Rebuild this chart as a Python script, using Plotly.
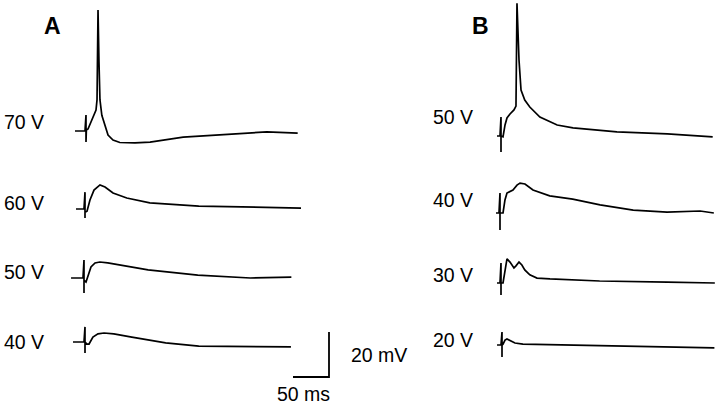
import plotly.graph_objects as go

# Sweep data: time relative to stimulus (ms) and voltage relative to baseline (mV).
# Stimulus artifact shows as the up/down blip at t = 0.
a70_t = [-15.3, -1.4, 0, 0, 0, 0.5, 2.8, 8.3, 13.9, 15.3, 16.7, 18.0, 19.4, 22.0, 26.4, 30.6, 37.5, 47, 68, 89, 135, 204, 251, 294]
a70_v = [0, 0, 7.1, -4.9, 0, 0.4, 0.9, 4.9, 9.3, 13.8, 53.8, 31.0, 13.8, 7.0, 2.2, -1.8, -4.0, -5.1, -5.3, -4.9, -2.7, -1.3, -0.4, -0.9]

a60_t = [-12.5, -1.4, 0, 0, 0, 2.8, 6.9, 12.5, 18.0, 20.8, 27.8, 38.9, 58, 90, 158, 228, 300]
a60_v = [0, 0, 7.5, -4.0, -1.5, -1.0, 4.0, 8.4, 10.2, 10.7, 9.8, 7.1, 4.9, 2.7, 1.3, 0.9, 0.4]

a50_t = [-18, -1.4, 0, 0, 0, 2.8, 5.6, 9.7, 15.3, 22.0, 33, 43, 89, 158, 231, 288]
a50_v = [0, 0, 8.0, -6.7, -1.0, -1.8, 0.9, 4.9, 6.7, 7.1, 6.7, 6.2, 3.6, 1.3, 0, 0.4]

a40_t = [-16.7, -1.4, 0, 0, 0, 2.8, 5.6, 11.0, 18.0, 26.4, 40, 65, 112, 158, 229, 286]
a40_v = [0, 0, 6.7, -4.9, 0, -0.9, -0.9, 2.2, 3.6, 4.0, 3.6, 2.2, -0.4, -1.8, -2.2, -2.2]

b50_t = [-5.6, -1.4, 0, 0, 0, 2.8, 5.6, 8.3, 12.5, 18.0, 20.8, 22.2, 25.0, 27.8, 33, 40, 54, 78, 100, 161, 231, 294]
b50_v = [0, 0, 8.4, -7.1, 0, -0.4, 4.9, 8.0, 9.8, 11.6, 13.3, 59.0, 33.8, 20.4, 16.0, 12.9, 8.4, 4.9, 3.6, 1.8, 0.9, -0.4]

b40_t = [-5.6, -1.4, 0, 0, 0, 4.2, 6.9, 9.7, 18.0, 23.6, 27.8, 34.7, 45.8, 69, 101, 139, 185, 232, 278, 297]
b40_v = [0, 0, 8.9, -7.6, 0, 0, 5.8, 8.9, 10.2, 12.4, 13.3, 12.9, 10.2, 7.6, 6.2, 3.6, 1.3, 0.4, 0.9, 0]

b30_t = [-5.6, -1.4, 0, 0, 0, 2.8, 5.6, 8.3, 12.5, 18.0, 20.8, 25.0, 29, 33, 40, 50, 68, 137, 231, 297]
b30_v = [0, 0, 8.9, -5.3, 0, 0, 5.8, 10.7, 9.3, 6.7, 7.6, 9.3, 8.0, 5.8, 3.6, 2.2, 1.8, 0.9, 0.4, 0]

b20_t = [-6.9, -1.4, 0, 0, 0, 1.4, 4.2, 6.9, 12.5, 18.0, 29, 136, 295]
b20_v = [0, 0, 5.8, -5.3, 0, 0.4, 2.2, 2.7, 1.8, 0.9, 0.4, -0.4, -1.3]

panel_labels = ["A", "B"]
stim_labels_a = ["70 V", "60 V", "50 V", "40 V"]
stim_labels_b = ["50 V", "40 V", "30 V", "20 V"]

scale_ms = 50
scale_mv = 20

# page geometry: 0.72 px per ms, 2.25 px per mV
PX_PER_MS = 0.72
PX_PER_MV = 2.25
W, H = 720, 405


def px_x(px):
    return px / PX_PER_MS


def px_y(py):
    return (H - py) / PX_PER_MV


def add_sweep(fig, t, v, stim_px, base_px):
    x0, y0 = px_x(stim_px), px_y(base_px)
    fig.add_trace(
        go.Scatter(
            x=[x0 + ti for ti in t],
            y=[y0 + vi for vi in v],
            mode="lines",
            line=dict(color="black", width=1.7),
            hoverinfo="skip",
        )
    )


fig = go.Figure()

sweeps = [
    (a70_t, a70_v, 86, 131),
    (a60_t, a60_v, 85, 209),
    (a50_t, a50_v, 84, 278),
    (a40_t, a40_v, 85, 342),
    (b50_t, b50_v, 501, 136),
    (b40_t, b40_v, 500, 213),
    (b30_t, b30_v, 501, 283),
    (b20_t, b20_v, 502, 345),
]
for t, v, sx, sy in sweeps:
    add_sweep(fig, t, v, sx, sy)

# scale bar
sb_x, sb_y = px_x(293), px_y(377)
fig.add_trace(
    go.Scatter(
        x=[sb_x, sb_x + scale_ms, sb_x + scale_ms],
        y=[sb_y, sb_y, sb_y + scale_mv],
        mode="lines",
        line=dict(color="black", width=1.8),
        hoverinfo="skip",
    )
)

font = dict(family="Liberation Sans, Arial, sans-serif", size=19.5, color="black")
annotations = []
for label, px, py in zip(panel_labels, [52, 480], [26, 26]):
    annotations.append(
        dict(x=px_x(px), y=px_y(py), text="<b>%s</b>" % label,
             font=dict(family="Liberation Sans, Arial, sans-serif", size=23, color="black"))
    )
for label, py in zip(stim_labels_a, [122, 203, 272, 342]):
    annotations.append(dict(x=px_x(2), y=px_y(py), text=label, xanchor="left", font=font))
for label, py in zip(stim_labels_b, [117, 200, 275, 340]):
    annotations.append(dict(x=px_x(431), y=px_y(py), text=label, xanchor="left", font=font))
annotations.append(dict(x=px_x(349), y=px_y(355), text="%d mV" % scale_mv, xanchor="left", font=font))
annotations.append(dict(x=px_x(303), y=px_y(394), text="%d ms" % scale_ms, font=font))
for a in annotations:
    a.update(showarrow=False, xref="x", yref="y")

fig.update_layout(
    width=W,
    height=H,
    margin=dict(l=0, r=0, t=0, b=0),
    paper_bgcolor="white",
    plot_bgcolor="white",
    showlegend=False,
    annotations=annotations,
    xaxis=dict(range=[0, W / PX_PER_MS], visible=False, fixedrange=True),
    yaxis=dict(range=[0, H / PX_PER_MV], visible=False, fixedrange=True),
)

# drop the default page margin so the figure sits at the window's corner
fig.write_html(
    "out.html",
    config={"displayModeBar": False},
    post_script="document.body.style.margin='0';",
)
